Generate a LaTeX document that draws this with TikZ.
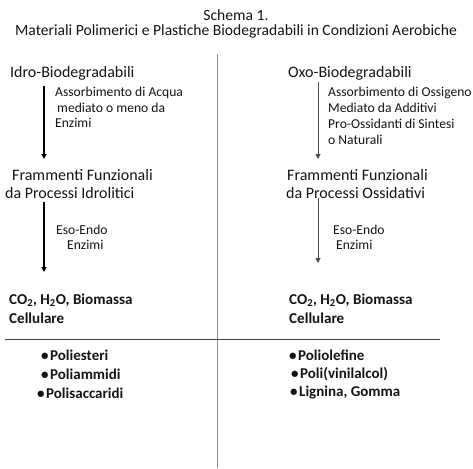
\documentclass[tikz,border=0pt]{standalone}
\usepackage{fontspec}
\setmainfont{Carlito}
\usetikzlibrary{arrows.meta}
\definecolor{txt}{HTML}{141414}
\tikzset{
  lbl/.style={anchor=west, inner sep=0pt, text=txt},
  ttl/.style={inner sep=0pt, text=txt, font=\fontsize{15.6}{18}\selectfont},
  head/.style={lbl, font=\fontsize{16}{19}\selectfont},
  note/.style={lbl, font=\fontsize{13.6}{16}\selectfont},
  res/.style={lbl, font=\fontsize{15.1}{18}\selectfont\bfseries},
  bul/.style={lbl, font=\fontsize{15}{18}\selectfont\bfseries},
  arrL/.style={draw=black, line width=1.2pt, -{Triangle[width=5pt,length=5pt]}},
  arrR/.style={draw=black!70, line width=0.9pt, -{Triangle[width=5pt,length=5pt]}},
}
\begin{document}
\begin{tikzpicture}[x=1pt,y=-1pt]
\useasboundingbox (0,0) rectangle (473,468);
% titles
\node[ttl] (t1) at (236,15) {Schema 1.};
\node[ttl] (t2) at (236,31) {Materiali Polimerici e Plastiche Biodegradabili in Condizioni Aerobiche};
% divider lines
\coordinate (vtop) at (217,54);
\coordinate (vbot) at (217,468);
\coordinate (hl) at (5,339);
\coordinate (hr) at (440,339);
\draw[black!45, line width=1pt] (vtop) -- (vbot);
\draw[black!75, line width=1pt] (hl) -- (hr);
% left column
\node[head] (idro) at (10,73) {Idro-Biodegradabili};
\node[note] (n1a) at (55,93) {Assorbimento di Acqua};
\node[note] (n1b) at (57,108) {mediato o meno da};
\node[note] (n1c) at (55,123) {Enzimi};
\node[head] (fr1a) at (12,175) {Frammenti Funzionali};
\node[head] (fr1b) at (5,193) {da Processi Idrolitici};
\node[note] (e1a) at (56,230) {Eso-Endo};
\node[note] (e1b) at (67,245) {Enzimi};
\node[res] (c1a) at (9,300) {CO\textsubscript{2}, H\textsubscript{2}O, Biomassa};
\node[res] (c1b) at (9,318) {Cellulare};
\node[bul] (b1) at (41,355) {\textbullet\hspace{1.5pt}Poliesteri};
\node[bul] (b2) at (41,374) {\textbullet\hspace{1.5pt}Poliammidi};
\node[bul] (b3) at (37,393) {\textbullet\hspace{1.5pt}Polisaccaridi};
\coordinate (a1s) at (44,86);
\coordinate (a1e) at (44,159);
\coordinate (a2s) at (44,202);
\coordinate (a2e) at (44,272);
\draw[arrL] (a1s) -- (a1e);
\draw[arrL] (a2s) -- (a2e);
% right column
\node[head] (oxo) at (288,73) {Oxo-Biodegradabili};
\node[note] (n2a) at (328,93) {Assorbimento di Ossigeno};
\node[note] (n2b) at (328,108) {Mediato da Additivi};
\node[note] (n2c) at (328,124) {Pro-Ossidanti di Sintesi};
\node[note] (n2d) at (328,140) {o Naturali};
\node[head] (fr2a) at (287,175) {Frammenti Funzionali};
\node[head] (fr2b) at (286,193) {da Processi Ossidativi};
\node[note] (e2a) at (333,230) {Eso-Endo};
\node[note] (e2b) at (336,245) {Enzimi};
\node[res] (c2a) at (289,300) {CO\textsubscript{2}, H\textsubscript{2}O, Biomassa};
\node[res] (c2b) at (289,318) {Cellulare};
\node[bul] (d1) at (289,355) {\textbullet\hspace{1.5pt}Poliolefine};
\node[bul] (d2) at (291,374) {\textbullet\hspace{1.5pt}Poli(vinilalcol)};
\node[bul] (d3) at (290,393) {\textbullet\hspace{1.5pt}Lignina, Gomma};
\coordinate (b1s) at (318,82);
\coordinate (b1e) at (318,159);
\coordinate (b2s) at (318,198);
\coordinate (b2e) at (318,263);
\draw[arrR] (b1s) -- (b1e);
\draw[arrR] (b2s) -- (b2e);
\end{tikzpicture}
\end{document}
